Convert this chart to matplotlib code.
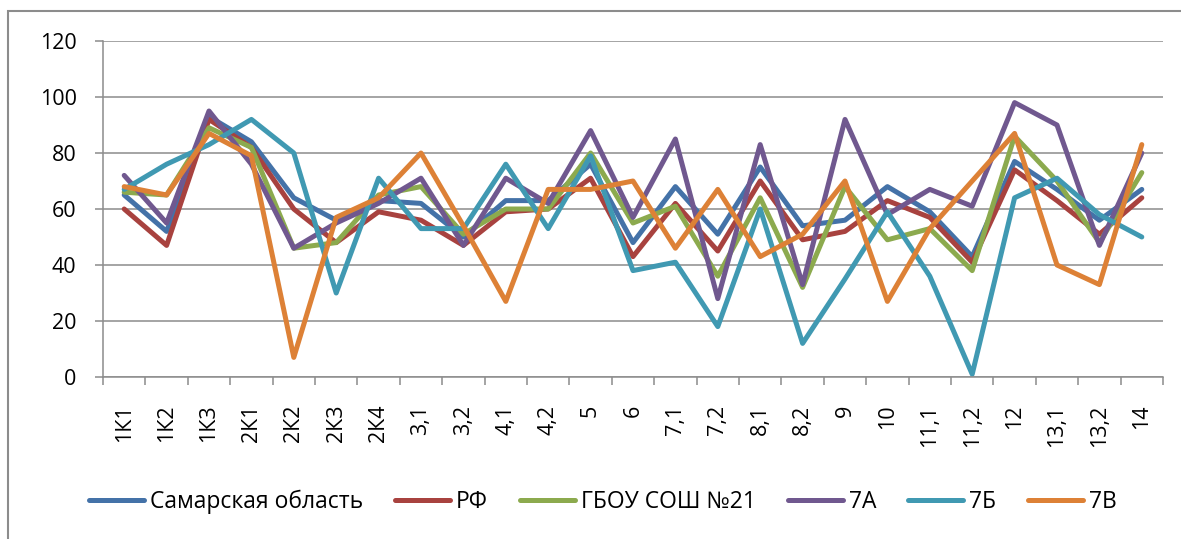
import matplotlib.pyplot as plt
from matplotlib.patches import Rectangle

plt.rcParams['font.family'] = ['Open Sans', 'DejaVu Sans']

categories = ['1К1', '1К2', '1К3', '2К1', '2К2', '2К3', '2К4', '3,1', '3,2', '4,1', '4,2',
              '5', '6', '7,1', '7,2', '8,1', '8,2', '9', '10', '11,1', '11,2', '12',
              '13,1', '13,2', '14']

samara = [65, 52, 93, 84, 64, 56, 63, 62, 50, 63, 63, 76, 48, 68, 51, 75, 54, 56, 68, 59, 43, 77, 67, 56, 67]
rf = [60, 47, 92, 82, 60, 48, 59, 56, 47, 59, 60, 71, 43, 62, 45, 70, 49, 52, 63, 57, 41, 74, 63, 51, 64]
school = [66, 65, 89, 82, 46, 48, 65, 68, 51, 60, 60, 80, 55, 61, 36, 64, 32, 68, 49, 53, 38, 86, 70, 48, 73]
class_7a = [72, 55, 95, 76, 46, 55, 62, 71, 47, 71, 62, 88, 57, 85, 28, 83, 33, 92, 58, 67, 61, 98, 90, 47, 80]
class_7b = [67, 76, 83, 92, 80, 30, 71, 53, 53, 76, 53, 79, 38, 41, 18, 60, 12, 35, 59, 36, 1, 64, 71, 58, 50]
class_7v = [68, 65, 87, 79, 7, 57, 64, 80, 54, 27, 67, 67, 70, 46, 67, 43, 51, 70, 27, 53, 70, 87, 40, 33, 83]

series = [
    ('Самарская область', samara, '#4472A8'),
    ('РФ', rf, '#A8423F'),
    ('ГБОУ СОШ №21', school, '#8CAA4E'),
    ('7А', class_7a, '#70588F'),
    ('7Б', class_7b, '#4099B2'),
    ('7В', class_7v, '#DD8136'),
]

W, H = 1181, 539
fig = plt.figure(figsize=(W / 100, H / 100), dpi=100)
ax = fig.add_axes([103 / W, 1 - 377 / H, (1163 - 103) / W, (377 - 41) / H])

x = list(range(len(categories)))
for name, vals, color in series:
    ax.plot(x, vals, color=color, linewidth=3.6, label=name,
            solid_joinstyle='round', solid_capstyle='round')

grid_c = '#8C8C8C'
ax.set_xlim(-0.5, len(categories) - 0.5)
ax.set_ylim(0, 120)
ax.set_yticks(range(0, 121, 20))
ax.yaxis.grid(True, color=grid_c, linewidth=1.1)
ax.set_axisbelow(True)

ax.set_xticks(x)
ax.set_xticklabels(categories, rotation=90, va='top', ha='center')
ax.set_xticks([i - 0.5 for i in range(len(categories) + 1)], minor=True)
ax.tick_params(axis='x', which='major', length=0, pad=20, labelsize=15.5)
ax.tick_params(axis='x', which='minor', length=6, width=1.1, color=grid_c)
ax.tick_params(axis='y', length=6, width=1.1, color=grid_c, pad=13, labelsize=15.5)

for s in ['top', 'right']:
    ax.spines[s].set_visible(False)
for s in ['left', 'bottom']:
    ax.spines[s].set_color(grid_c)
    ax.spines[s].set_linewidth(1.1)

fig.patches.append(Rectangle((8 / W, -0.1), 1.2, 1 - 11 / H + 0.1, transform=fig.transFigure,
                             fill=False, edgecolor='#8C8C8C', linewidth=1.5))

fig.legend(loc='center', bbox_to_anchor=(603 / W, 1 - 502 / H), ncol=6, frameon=False,
           fontsize=16.5, handlelength=2.4, handletextpad=0.25, columnspacing=1.4)

fig.savefig('out.png', dpi=100)
